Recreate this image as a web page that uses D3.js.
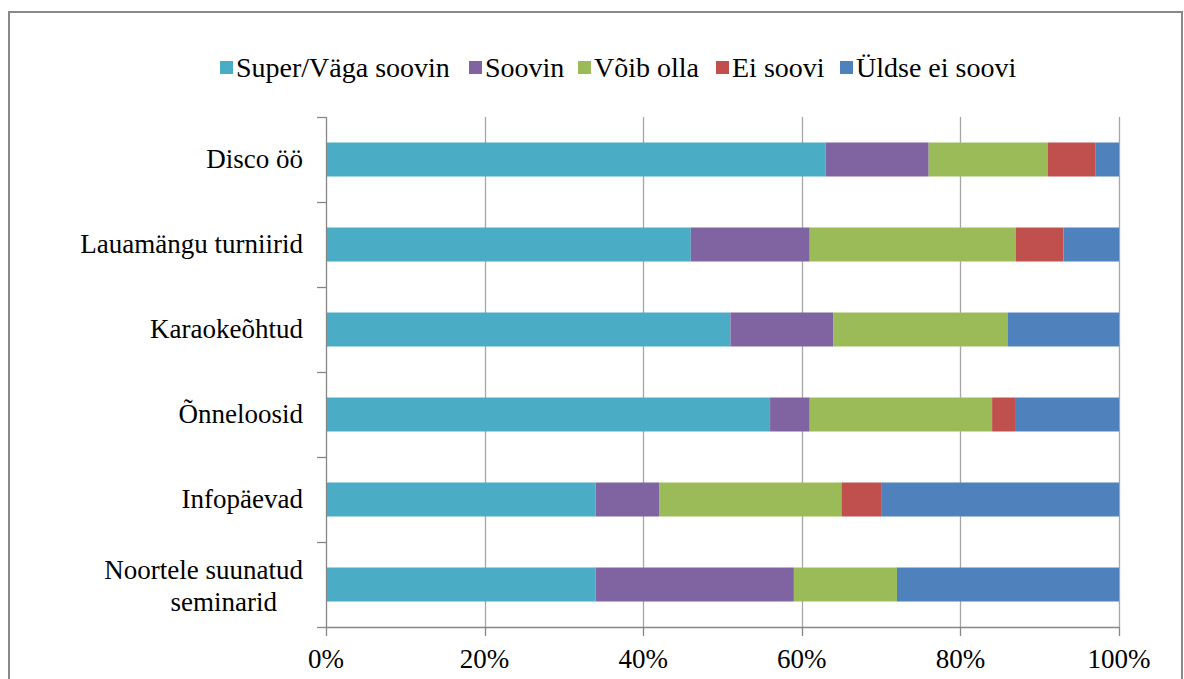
<!DOCTYPE html>
<html>
<head>
<meta charset="utf-8">
<script src="https://cdn.jsdelivr.net/npm/d3@7"></script>
<style>
  body { margin: 0; background: #fff; }
</style>
</head>
<body>
<div id="chart"></div>
<script>
// categories, top to bottom
const categories = ["Disco öö", "Lauamängu turniirid", "Karaokeõhtud", "Õnneloosid", "Infopäevad", "Noortele suunatud seminarid"];
const seriesNames = ["Super/Väga soovin", "Soovin", "Võib olla", "Ei soovi", "Üldse ei soovi"];
const seriesColors = ["#4bacc6", "#8064a2", "#9bbb59", "#c0504d", "#4f81bd"];

// percentage values per series (same order as categories)
const superVaga = [63, 46, 51, 56, 34, 34];
const soovin = [13, 15, 13, 5, 8, 25];
const voibOlla = [15, 26, 22, 23, 23, 13];
const eiSoovi = [6, 6, 0, 3, 5, 0];
const uldseEi = [3, 7, 14, 13, 30, 28];
const xTicks = [0, 20, 40, 60, 80, 100];

const FONT = "Liberation Serif";
const FS = 27;
const width = 1184, height = 679;
const margin = { top: 117, right: 65, bottom: 52, left: 326 };
const plotW = width - margin.left - margin.right;
const plotH = height - margin.top - margin.bottom;

const table = categories.map((c, i) => ({
  cat: c,
  s0: superVaga[i], s1: soovin[i], s2: voibOlla[i], s3: eiSoovi[i], s4: uldseEi[i]
}));
const keys = ["s0", "s1", "s2", "s3", "s4"];
const stacked = d3.stack().keys(keys)(table);

const svg = d3.select("#chart").append("svg")
  .attr("width", width)
  .attr("height", height);

// outer frame
svg.append("rect")
  .attr("x", 9).attr("y", 12)
  .attr("width", 1173).attr("height", 700)
  .attr("fill", "none")
  .attr("stroke", "#898989")
  .attr("stroke-width", 2);

const g = svg.append("g")
  .attr("transform", "translate(" + margin.left + "," + margin.top + ")");

const x = d3.scaleLinear().domain([0, 100]).range([0, plotW]);
const y = d3.scaleBand().domain(categories).range([0, plotH]).paddingInner(0.6).paddingOuter(0.3);

// gridlines
g.append("g")
  .selectAll("line")
  .data(xTicks.slice(1))
  .join("line")
  .attr("x1", d => Math.round(x(d)) + 0.5)
  .attr("x2", d => Math.round(x(d)) + 0.5)
  .attr("y1", 0)
  .attr("y2", plotH)
  .attr("stroke", "#a6a6a6")
  .attr("stroke-width", 1.3);

// bars
g.append("g")
  .selectAll("g")
  .data(stacked)
  .join("g")
  .attr("fill", (d, i) => seriesColors[i])
  .selectAll("rect")
  .data(d => d)
  .join("rect")
  .attr("x", d => x(d[0]))
  .attr("width", d => x(d[1]) - x(d[0]))
  .attr("y", d => y(d.data.cat))
  .attr("height", y.bandwidth());

// y axis
const yAxis = g.append("g");
yAxis.append("line")
  .attr("x1", 0.5).attr("x2", 0.5)
  .attr("y1", 0).attr("y2", plotH)
  .attr("stroke", "#868686").attr("stroke-width", 1.3);
const bandEdges = d3.range(categories.length + 1).map(i => i * plotH / categories.length);
yAxis.selectAll(".tick")
  .data(bandEdges)
  .join("line")
  .attr("x1", -9).attr("x2", 0)
  .attr("y1", d => Math.round(d) + 0.5)
  .attr("y2", d => Math.round(d) + 0.5)
  .attr("stroke", "#868686").attr("stroke-width", 1.3);

// category labels
categories.forEach(c => {
  const cy = y(c) + y.bandwidth() / 2;
  const t = g.append("text")
    .attr("x", -23)
    .attr("text-anchor", "end")
    .attr("font-family", FONT)
    .attr("font-size", FS)
    .attr("fill", "#000");
  if (c === "Noortele suunatud seminarid") {
    t.append("tspan").attr("x", -23).attr("y", cy - 6).text("Noortele suunatud");
    t.append("tspan").attr("x", -49).attr("y", cy + 26).text("seminarid");
  } else {
    t.attr("y", cy + 8).text(c);
  }
});

// x axis
const xAxis = g.append("g").attr("transform", "translate(0," + plotH + ")");
xAxis.append("line")
  .attr("x1", 0).attr("x2", plotW)
  .attr("y1", 0.5).attr("y2", 0.5)
  .attr("stroke", "#868686").attr("stroke-width", 1.3);
xAxis.selectAll(".tk")
  .data(xTicks)
  .join("line")
  .attr("x1", d => Math.round(x(d)) + 0.5)
  .attr("x2", d => Math.round(x(d)) + 0.5)
  .attr("y1", 0).attr("y2", 9)
  .attr("stroke", "#868686").attr("stroke-width", 1.3);
xAxis.selectAll("text")
  .data(xTicks)
  .join("text")
  .attr("x", d => x(d))
  .attr("y", 41)
  .attr("text-anchor", "middle")
  .attr("font-family", FONT)
  .attr("font-size", FS)
  .attr("fill", "#000")
  .text(d => d + "%");

// legend
const legendX = [220, 469, 578, 716, 840];
const legend = svg.append("g");
seriesNames.forEach((name, i) => {
  legend.append("rect")
    .attr("x", legendX[i]).attr("y", 61)
    .attr("width", 13).attr("height", 13)
    .attr("fill", seriesColors[i]);
  legend.append("text")
    .attr("x", legendX[i] + 16)
    .attr("y", 77)
    .attr("font-family", FONT)
    .attr("font-size", 28)
    .attr("fill", "#000")
    .text(name);
});
</script>
</body>
</html>
